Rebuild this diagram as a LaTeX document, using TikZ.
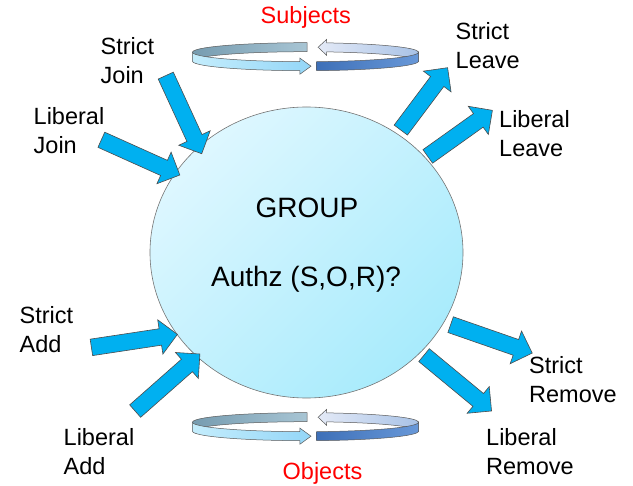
\documentclass[tikz,border=0pt]{standalone}
\usepackage{fontspec}
\setmainfont{Liberation Sans}
\usetikzlibrary{shapes.arrows,shapes.geometric,calc}

\definecolor{arrowblue}{RGB}{0,176,240}
\definecolor{grplight}{RGB}{222,247,255}
\definecolor{grpdark}{RGB}{168,235,252}
\definecolor{backleftA}{RGB}{118,156,176}
\definecolor{backleftB}{RGB}{168,197,212}
\definecolor{frontleftA}{RGB}{196,237,252}
\definecolor{frontleftB}{RGB}{148,214,248}
\definecolor{backrightA}{RGB}{228,234,247}
\definecolor{backrightB}{RGB}{168,194,230}
\definecolor{frontrightA}{RGB}{62,112,184}
\definecolor{frontrightB}{RGB}{104,152,216}

\begin{document}
\begin{tikzpicture}[x=1pt,y=-1pt,
    blockarrow/.style={single arrow,draw=black!70,line width=0.6pt,fill=arrowblue,inner xsep=0pt,inner ysep=8pt,single arrow head extend=9pt},
    grp/.style={ellipse,draw=black!55,line width=0.6pt,top color=grplight,bottom color=grpdark,shading angle=45,minimum width=313pt,minimum height=291pt,inner sep=0pt},
    grptext/.style={anchor=base,inner sep=0pt,font=\fontsize{28}{34}\selectfont},
    lbl/.style={align=left,anchor=base west,inner sep=0pt,font=\fontsize{23.5}{29}\selectfont},
    ringlbl/.style={anchor=base,inner sep=0pt,text=red,font=\fontsize{23.5}{29}\selectfont},
    ringline/.style={draw=black!65,line width=0.5pt}]
    \useasboundingbox (0,0) rectangle (633,486);

    \foreach \ringy in {0,370} {
        \coordinate (rt) at (305.5,52.2+\ringy);
        \coordinate (rm) at (305.5,56.7+\ringy);
        \coordinate (rb) at (305.5,61.2+\ringy);
        \draw[ringline,left color=backleftA,right color=backleftB]
            ($(rt)+(-89.2:113 and 9.5)$) arc[start angle=-89.2,end angle=-180,x radius=113,y radius=9.5]
            -- ($(rb)+(180:113 and 9.5)$) arc[start angle=180,end angle=270.8,x radius=113,y radius=9.5] -- cycle;
        \draw[ringline,left color=backrightA,right color=backrightB]
            ($(rt)+(0:113 and 9.5)$) arc[start angle=0,end angle=-79.2,x radius=113,y radius=9.5]
            -- ++(0,-3.5) -- ($(rm)+(-83.6:113 and 9.5)$)
            -- ($(rb)+(-79.2:113 and 9.5)+(0,3.5)$) -- ($(rb)+(-79.2:113 and 9.5)$)
            arc[start angle=-79.2,end angle=0,x radius=113,y radius=9.5] -- cycle;
        \draw[ringline,left color=frontleftA,right color=frontleftB]
            ($(rt)+(180:113 and 9.5)$) arc[start angle=180,end angle=92.8,x radius=113,y radius=9.5]
            -- ++(0,-3.5) -- ($(rm)+(87.2:113 and 9.5)$)
            -- ($(rb)+(92.8:113 and 9.5)+(0,3.5)$) -- ($(rb)+(92.8:113 and 9.5)$)
            arc[start angle=92.8,end angle=180,x radius=113,y radius=9.5] -- cycle;
        \draw[ringline,left color=frontrightA,right color=frontrightB]
            ($(rt)+(84.3:113 and 9.5)$) arc[start angle=84.3,end angle=0,x radius=113,y radius=9.5]
            -- ($(rb)+(0:113 and 9.5)$) arc[start angle=0,end angle=84.3,x radius=113,y radius=9.5] -- cycle;
    }
    \node[ringlbl] (subj) at (305.8,24) {Subjects};
    \node[ringlbl] (obj) at (322.5,480) {Objects};

    \node[grp] (grp) at (306.5,252.5) {};
    \node[grptext] (grpname) at (307,217.3) {GROUP};
    \node[grptext] (authz) at (306,286.7) {Authz (S,O,R)?};

    \node[blockarrow,rotate=-65.3,minimum height=86pt] (sjarrow) at (182,110.9) {};
    \node[blockarrow,rotate=-24.2,minimum height=86pt] (ljarrow) at (136.8,155.7) {};
    \node[blockarrow,rotate=53.1,minimum height=78pt] (slarrow) at (421.7,102.2) {};
    \node[blockarrow,rotate=35.5,minimum height=79.4pt] (llarrow) at (456.7,135.8) {};
    \node[blockarrow,rotate=-19.2,minimum height=86.4pt] (srarrow) at (487.5,337.5) {};
    \node[blockarrow,rotate=-39.6,minimum height=87.6pt] (lrarrow) at (454.6,380.4) {};
    \node[blockarrow,rotate=8.6,minimum height=87pt] (saarrow) at (130.3,341.5) {};
    \node[blockarrow,rotate=41.4,minimum height=86.3pt] (laarrow) at (164.4,385.3) {};

    \node[lbl] (sjlbl) at (100.5,83.5) {Strict\\Join};
    \node[lbl] (ljlbl) at (33.5,153.5) {Liberal\\Join};
    \node[lbl] (sllbl) at (455.5,69) {Strict\\Leave};
    \node[lbl] (lllbl) at (499,156.5) {Liberal\\Leave};
    \node[lbl] (srlbl) at (529,403) {Strict\\Remove};
    \node[lbl] (lrlbl) at (486,475) {Liberal\\Remove};
    \node[lbl] (salbl) at (19.5,352.5) {Strict\\Add};
    \node[lbl] (lalbl) at (63.5,475) {Liberal\\Add};
\end{tikzpicture}
\end{document}
